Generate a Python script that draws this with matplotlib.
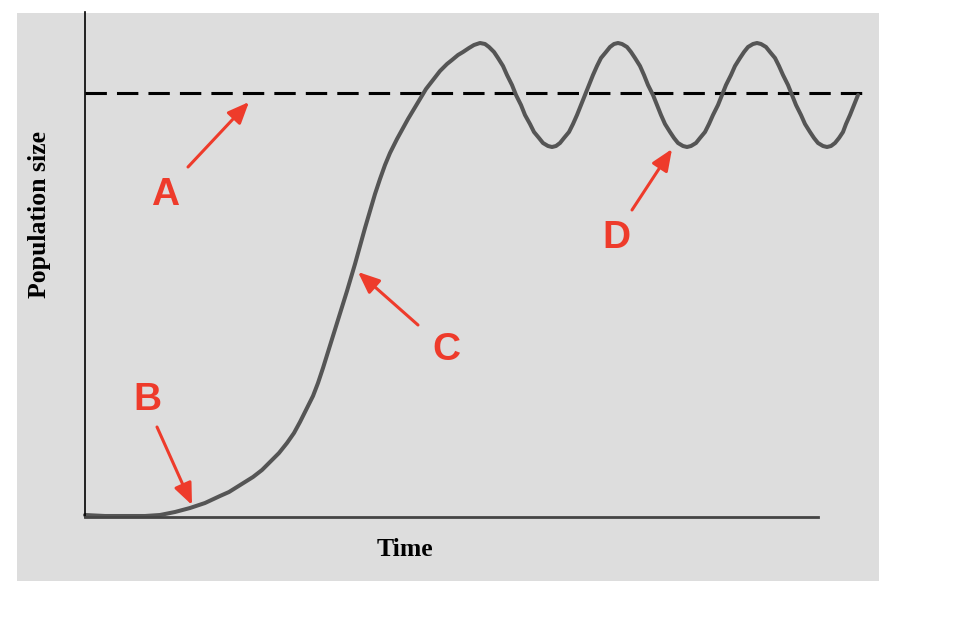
import matplotlib.pyplot as plt
from matplotlib.patches import Rectangle

# values (arbitrary units, time 0..733, population 0..505)
time = [0, 20, 40, 60, 75, 90, 105, 120, 135, 144, 152, 160, 168, 177, 185,
        194, 202, 209, 215, 221, 228, 233, 238, 243, 248, 253, 258, 262, 265,
        270, 275, 280, 285, 290, 295, 300, 305, 312, 318, 323, 329, 335, 341,
        348, 355, 362, 367, 373, 378, 384, 389, 395,
        400, 404, 409, 413, 418, 422, 427, 431, 436, 440, 445, 449, 454, 458, 463, 467,
        471, 475, 479, 484, 488, 492, 496, 500, 504, 508, 512, 516, 521, 525, 529, 533,
        537, 542, 546, 550, 555, 559, 563, 568, 572, 576, 580, 585, 589, 593, 598, 602,
        606, 611, 615, 620, 624, 628, 633, 637, 641, 646, 650, 655, 659, 663, 668, 672,
        676, 681, 685, 690, 694, 698, 703, 707, 711, 716, 720, 725, 729, 733, 738, 742,
        746, 750, 754, 758, 761, 765, 769, 773]
population = [2, 1, 1, 1, 2, 5, 9, 14, 21, 25, 30, 35, 40, 47, 55,
              64, 74, 84, 95, 107, 121, 134, 149, 165, 181, 197, 213, 226, 236,
              253, 271, 289, 306, 323, 338, 352, 364, 378, 389, 398, 408, 418, 428,
              437, 446, 453, 457, 462, 465, 469, 472, 474,
              473, 470, 465, 459, 451, 442, 432, 422, 412, 402, 393, 385, 379, 374, 371, 370,
              371, 374, 379, 385, 393, 402, 412, 422, 432, 442, 451, 459, 465, 470, 473, 474,
              473, 470, 465, 459, 451, 442, 432, 422, 412, 402, 393, 385, 379, 374, 371, 370,
              371, 374, 379, 385, 393, 402, 412, 422, 432, 442, 451, 459, 465, 470, 473, 474,
              473, 470, 465, 459, 451, 442, 432, 422, 412, 402, 393, 385, 379, 374, 371, 370,
              371, 374, 379, 385, 393, 402, 412, 422]
carrying_capacity = 424

labels = ["A", "B", "C", "D"]
label_pos = [(80, 322), (62, 117), (361, 167), (531, 279)]
arrow_tail = [(103, 350), (72, 90), (333, 192), (547, 307)]
arrow_tip = [(164, 415), (107, 12), (273, 245), (587, 368)]

red = "#ee3b2b"

fig = plt.figure(figsize=(9.78, 6.36), dpi=100)
bg = fig.add_axes([0, 0, 1, 1], zorder=-5)
bg.set_xlim(0, 978)
bg.set_ylim(636, 0)
bg.axis("off")
bg.add_patch(Rectangle((17, 13), 862, 568, facecolor="#dddddd", edgecolor="none"))

ax = fig.add_axes([85 / 978, 119 / 636, 785 / 978, 505 / 636])
ax.set_facecolor("none")
ax.set_xlim(0, 785)
ax.set_ylim(0, 505)

ax.axhline(carrying_capacity, color="black", lw=2.2, linestyle=(0, (7, 3.3)))
ax.plot(time, population, color="#555555", lw=2.9, solid_capstyle="round",
        solid_joinstyle="round", clip_on=False)

for lab, pos, tail, tip in zip(labels, label_pos, arrow_tail, arrow_tip):
    ax.text(pos[0], pos[1], lab, color=red, fontsize=28, fontweight="bold",
            family="Liberation Sans", ha="center", va="center")
    ax.annotate("", xy=tip, xytext=tail,
                arrowprops=dict(arrowstyle="-|>,head_length=1.3,head_width=0.55",
                                color=red, lw=2.2, shrinkA=0, shrinkB=0))

for s in ["top", "right"]:
    ax.spines[s].set_visible(False)
ax.spines["left"].set_color("black")
ax.spines["left"].set_linewidth(1.2)
ax.spines["bottom"].set_color("#444444")
ax.spines["bottom"].set_linewidth(2)
ax.spines["bottom"].set_bounds(0, 733)
ax.set_xticks([])
ax.set_yticks([])

ax.text(320, -33, "Time", family="Liberation Serif", fontweight="bold",
        fontsize=18.5, ha="center", va="center", clip_on=False)
ax.text(-45, 303, "Population size", family="Liberation Serif", fontweight="bold",
        fontsize=18.5, rotation=90, ha="center", va="center", clip_on=False)

fig.savefig("out.png", dpi=100)
